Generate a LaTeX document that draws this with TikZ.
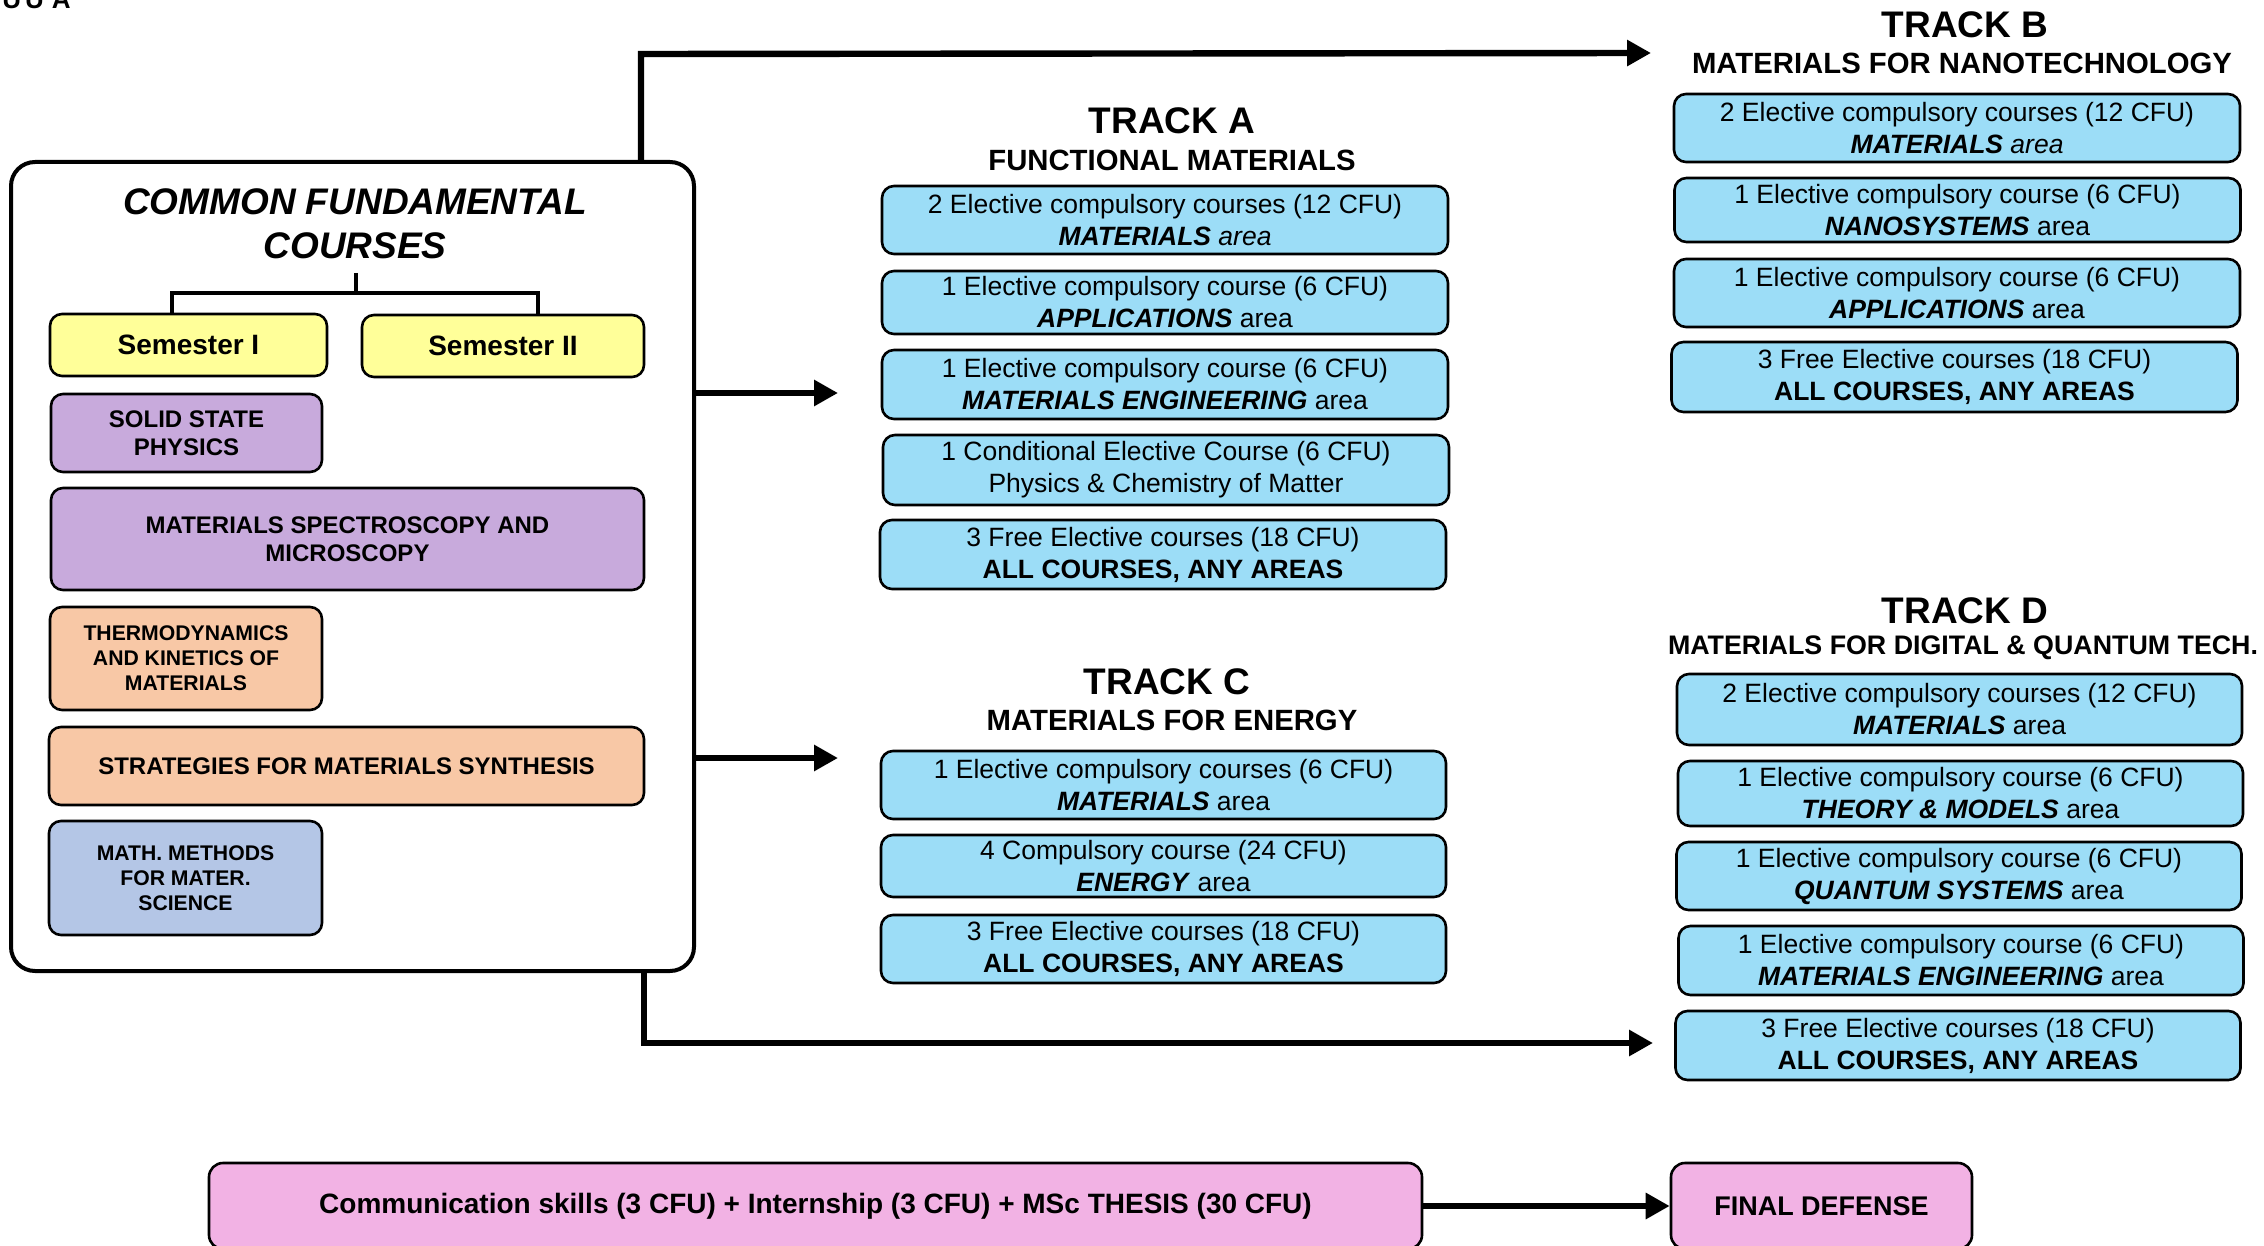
\documentclass[tikz,border=0pt]{standalone}
\usepackage{fontspec}
\setmainfont{Liberation Sans}
\usetikzlibrary{arrows.meta}
\definecolor{semY}{HTML}{FFFF99}
\definecolor{purp}{HTML}{C8AADC}
\definecolor{peach}{HTML}{F8C8A6}
\definecolor{greyblue}{HTML}{B4C6E6}
\definecolor{lblue}{HTML}{9CDDF7}
\definecolor{pinkbox}{HTML}{F2B2E4}
\begin{document}
\begin{tikzpicture}[x=0.5pt,y=-0.5pt,
  box/.style={draw=black, line width=1.3pt, rounded corners=6pt, inner sep=0pt, align=center},
  trk/.style={box, fill=lblue, minimum width=283pt, font=\fontsize{13.25}{16}\selectfont},
  lbox/.style={box, font=\bfseries\fontsize{12}{14}\selectfont},
  sbox/.style={box, font=\bfseries\fontsize{10.6}{12.5}\selectfont},
  ttl/.style={inner sep=0pt, font=\bfseries\fontsize{18.5}{22}\selectfont},
  sub/.style={inner sep=0pt, font=\bfseries\fontsize{14.65}{17}\selectfont},
  tree/.style={line width=2pt},
  arr/.style={line width=3.2pt, -{Triangle[length=12pt,width=12.5pt]}}
]
\useasboundingbox (0,0) rectangle (2264,1246);

% fragment at top-left edge (cut off in the reference)
\node[anchor=base west, inner sep=0pt, font=\bfseries\fontsize{13}{13}\selectfont] (frag) at (2,9) {U\hspace{2pt}U\hspace{4pt}A};

% main box
\node[draw=black, line width=2pt, rounded corners=12pt, minimum width=341.5pt, minimum height=404.5pt, inner sep=0pt] (main) at (352.5,566.5) {};
\node[inner sep=0pt, align=center, font=\bfseries\itshape\fontsize{18.5}{22}\selectfont] (title) at (355,224) {COMMON FUNDAMENTAL\\COURSES};

\node[box, fill=semY, minimum width=138.5pt, minimum height=31pt, font=\bfseries\fontsize{14}{16}\selectfont] (sem1) at (188.5,345) {Semester I};
\node[box, fill=semY, minimum width=141pt, minimum height=31pt, font=\bfseries\fontsize{14}{16}\selectfont] (sem2) at (503,346) {Semester II};

\coordinate (tstem) at (356,273);
\coordinate (tj) at (356,293);
\coordinate (tl) at (172,293);
\coordinate (tr) at (538,293);
\draw[tree] (tstem) -- (tj);
\draw[tree] (sem1.north -| tl) -- (tl) -- (tr) -- (sem2.north -| tr);

\node[lbox, fill=purp, minimum width=135.5pt, minimum height=39pt] (ssp) at (186.5,433) {SOLID STATE\\PHYSICS};
\node[lbox, fill=purp, minimum width=296.5pt, minimum height=51pt] (spec) at (347.5,539) {MATERIALS SPECTROSCOPY AND\\MICROSCOPY};
\node[sbox, fill=peach, minimum width=136pt, minimum height=51.5pt] (thermo) at (186,658.5) {THERMODYNAMICS\\AND KINETICS OF\\MATERIALS};
\node[lbox, fill=peach, minimum width=297.5pt, minimum height=39pt] (strat) at (346.5,766) {STRATEGIES FOR MATERIALS SYNTHESIS};
\node[sbox, fill=greyblue, minimum width=136.5pt, minimum height=57pt] (math) at (185.5,878) {MATH. METHODS\\FOR MATER.\\SCIENCE};

% Track A
\node[ttl] (tA) at (1172,121) {TRACK A};
\node[sub] (sA) at (1172,160) {FUNCTIONAL MATERIALS};
\node[trk, minimum height=34pt] (a1) at (1165,220) {2 Elective compulsory courses (12 CFU)\\\textbf{\textit{MATERIALS}} \textit{area}};
\node[trk, minimum height=31.5pt] (a2) at (1165,302.5) {1 Elective compulsory course (6 CFU)\\\textbf{\textit{APPLICATIONS}} area};
\node[trk, minimum height=34.5pt] (a3) at (1165,384.5) {1 Elective compulsory course (6 CFU)\\\textbf{\textit{MATERIALS ENGINEERING}} area};
\node[trk, minimum height=35pt] (a4) at (1166,470) {1 Conditional Elective Course (6 CFU)\\Physics \& Chemistry of Matter};
\node[trk, minimum height=34.5pt] (a5) at (1163,554.5) {3 Free Elective courses (18 CFU)\\\textbf{ALL COURSES, ANY AREAS}};

% Track C
\node[ttl] (tC) at (1167,682) {TRACK C};
\node[sub] (sC) at (1172,720) {MATERIALS FOR ENERGY};
\node[trk, minimum width=282.5pt, minimum height=34pt] (c1) at (1163.5,785) {1 Elective compulsory courses (6 CFU)\\\textbf{\textit{MATERIALS}} area};
\node[trk, minimum width=282.5pt, minimum height=31pt] (c2) at (1163.5,866) {4 Compulsory course (24 CFU)\\\textbf{\textit{ENERGY}} area};
\node[trk, minimum width=282.5pt, minimum height=34pt] (c3) at (1163.5,949) {3 Free Elective courses (18 CFU)\\\textbf{ALL COURSES, ANY AREAS}};

% Track B
\node[ttl] (tB) at (1965,25) {TRACK B};
\node[sub] (sB) at (1962,63) {MATERIALS FOR NANOTECHNOLOGY};
\node[trk, minimum height=34pt] (b1) at (1957,128) {2 Elective compulsory courses (12 CFU)\\\textbf{\textit{MATERIALS}} \textit{area}};
\node[trk, minimum height=32pt] (b2) at (1957.5,210) {1 Elective compulsory course (6 CFU)\\\textbf{\textit{NANOSYSTEMS}} area};
\node[trk, minimum height=34pt] (b3) at (1957,293) {1 Elective compulsory course (6 CFU)\\\textbf{\textit{APPLICATIONS}} area};
\node[trk, minimum height=35pt] (b4) at (1954.5,377) {3 Free Elective courses (18 CFU)\\\textbf{ALL COURSES, ANY AREAS}};

% Track D
\node[ttl] (tD) at (1965,611) {TRACK D};
\node[sub, font=\bfseries\fontsize{13.4}{16}\selectfont] (sD) at (1963,648) {MATERIALS FOR DIGITAL \& QUANTUM TECH.};
\node[trk, minimum width=282.5pt, minimum height=35.5pt] (d1) at (1959.5,709.5) {2 Elective compulsory courses (12 CFU)\\\textbf{\textit{MATERIALS}} area};
\node[trk, minimum width=282.5pt, minimum height=32.5pt] (d2) at (1960.5,793.5) {1 Elective compulsory course (6 CFU)\\\textbf{\textit{THEORY \& MODELS}} area};
\node[trk, minimum width=282.5pt, minimum height=34pt] (d3) at (1959,876) {1 Elective compulsory course (6 CFU)\\\textbf{\textit{QUANTUM SYSTEMS}} area};
\node[trk, minimum width=282.5pt, minimum height=34.5pt] (d4) at (1961,960.5) {1 Elective compulsory course (6 CFU)\\\textbf{\textit{MATERIALS ENGINEERING}} area};
\node[trk, minimum width=282.5pt, minimum height=34.5pt] (d5) at (1958,1045.5) {3 Free Elective courses (18 CFU)\\\textbf{ALL COURSES, ANY AREAS}};

% bottom row
\node[box, fill=pinkbox, rounded corners=7pt, minimum width=606.5pt, minimum height=43pt, font=\bfseries\fontsize{14}{16}\selectfont] (comm) at (815.5,1206) {Communication skills (3 CFU) + Internship (3 CFU) + MSc THESIS (30 CFU)};
\node[box, fill=pinkbox, rounded corners=7pt, minimum width=150.5pt, minimum height=43pt, font=\bfseries\fontsize{13.5}{16}\selectfont] (final) at (1821.5,1206) {FINAL DEFENSE};

% arrows
\coordinate (bturn) at (641,54);
\coordinate (tipB) at (1651,53);
\draw[arr] (main.north -| bturn) -- (bturn) -- (tipB);
\coordinate (tipA) at (838,393);
\draw[arr] (main.east |- tipA) -- (tipA);
\coordinate (tipC) at (838,758);
\draw[arr] (main.east |- tipC) -- (tipC);
\coordinate (dturn) at (644,1043);
\coordinate (tipD) at (1653,1043);
\draw[arr] (main.south -| dturn) -- (dturn) -- (tipD);
\draw[arr] (comm) -- (final);
\end{tikzpicture}
\end{document}
